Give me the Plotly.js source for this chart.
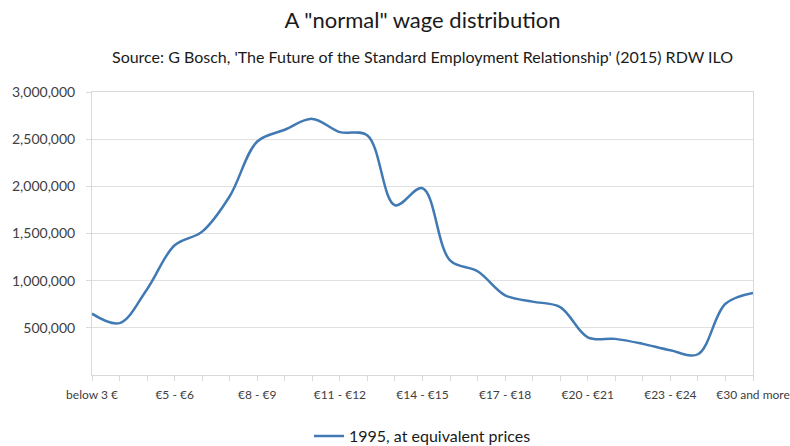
<!DOCTYPE html>
<html>
<head>
<meta charset="utf-8">
<script src="https://cdn.plot.ly/plotly-3.0.1.min.js"></script>
<style>html,body{margin:0;padding:0;background:#fff;}#chart{width:790px;height:446px;}</style>
</head>
<body>
<div id="chart"></div>
<script>
const categories = ["below 3 €","€3 - €4","€4 - €5","€5 - €6","€6 - €7","€7 - €8","€8 - €9","€9 - €10","€10 - €11","€11 - €12","€12 - €13","€13 - €14","€14 - €15","€15 - €16","€16 - €17","€17 - €18","€18 - €19","€19 - €20","€20 - €21","€21 - €22","€22 - €23","€23 - €24","€24 - €25","€25 - €30","€30 and more"];
const values1995 = [650000,550000,910000,1375000,1520000,1895000,2475000,2600000,2715000,2575000,2540000,1800000,1980000,1215000,1100000,845000,778000,720000,400000,383000,330000,262000,220000,755000,870000];
const labelEvery = 3;
const yTicks = [500000,1000000,1500000,2000000,2500000,3000000];
const seriesName = "1995, at equivalent prices";
const titleText = 'A "normal" wage distribution';
const subtitleText = "Source: G Bosch, 'The Future of the Standard Employment Relationship' (2015) RDW ILO";

const xIdx = categories.map((_, i) => i);
const tickIdx = xIdx.filter(i => i % labelEvery === 0);
const tickTxt = tickIdx.map(i => categories[i]);

const font = "Lato, 'Open Sans', sans-serif";
const trace = {
  x: xIdx, y: values1995, type: 'scatter', mode: 'lines', name: seriesName,
  line: {color: '#4079b3', width: 2.5, shape: 'spline', smoothing: 1},
  text: categories, hoverinfo: 'text+y'
};
const layout = {
  width: 790, height: 446,
  margin: {l: 91.5, r: 37, t: 92, b: 71, autoexpand: false},
  paper_bgcolor: '#fff', plot_bgcolor: '#fff',
  font: {family: font, color: '#404040', size: 12},
  title: {text: titleText, x: 0.5, xref: 'paper', xanchor: 'center', y: 0.955, yref: 'container', yanchor: 'middle', font: {family: font, size: 22, color: '#1a1a1a'}},
  annotations: [{text: subtitleText, xref: 'paper', yref: 'paper', x: 0.5, y: 1.127, xanchor: 'center', yanchor: 'middle', showarrow: false, font: {family: font, size: 16, color: '#1a1a1a'}}],
  xaxis: {
    range: [0, 24], tickvals: tickIdx, ticktext: tickTxt, tickangle: 0, ticklabeloverflow: 'allow',
    showgrid: false, zeroline: false, showline: true, linecolor: '#d9d9d9', linewidth: 1, mirror: true,
    ticks: 'outside', ticklen: 5, tickcolor: '#d9d9d9', ticklabelstandoff: 4,
    minor: {dtick: 1, tick0: 0, ticks: 'outside', ticklen: 5, tickcolor: '#d9d9d9', showgrid: false},
    tickfont: {family: font, size: 12, color: '#404040'}
  },
  yaxis: {
    range: [0, 3000000], tickvals: yTicks, tickformat: ',d',
    showgrid: true, gridcolor: '#e0e0e0', gridwidth: 1.2, zeroline: false,
    showline: true, linecolor: '#d9d9d9', linewidth: 1, mirror: true,
    ticks: 'outside', ticklen: 5, tickcolor: '#d9d9d9', ticklabelstandoff: 8,
    tickfont: {family: font, size: 14, color: '#404040'}
  },
  showlegend: true,
  legend: {orientation: 'h', x: 0.5, xanchor: 'center', xref: 'paper', y: 0.022, yref: 'container', yanchor: 'middle', font: {family: font, size: 16, color: '#1a1a1a'}}
};
Plotly.newPlot('chart', [trace], layout, {displayModeBar: false, staticPlot: true});
</script>
</body>
</html>
